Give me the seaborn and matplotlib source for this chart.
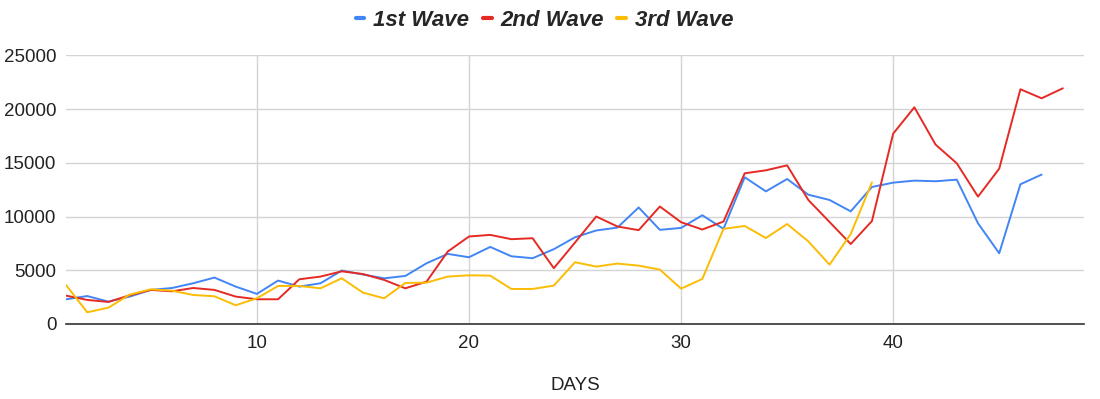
import matplotlib
matplotlib.use("Agg")
import matplotlib.pyplot as plt
import seaborn as sns
import pandas as pd
from matplotlib.lines import Line2D

wave1 = [2300, 2600, 2080, 2550, 3170, 3350, 3790, 4320, 3480, 2800,
         4040, 3480, 3790, 4970, 4600, 4250, 4470, 5650, 6520, 6210,
         7170, 6300, 6120, 6960, 8070, 8700, 8970, 10840, 8760, 8940,
         10120, 8850, 13650, 12340, 13490, 12030, 11540, 10480, 12750, 13150,
         13340, 13280, 13430, 9370, 6580, 13000, 13900]
wave2 = [2640, 2240, 2050, 2670, 3170, 3040, 3350, 3170, 2550, 2300,
         2300, 4160, 4410, 4900, 4650, 4100, 3320, 3940, 6740, 8140,
         8290, 7890, 7980, 5190, 7580, 10000, 9070, 8730, 10930, 9470,
         8790, 9530, 14020, 14300, 14760, 11540, 9490, 7440, 9580, 17710,
         20160, 16690, 14950, 11850, 14450, 21840, 21000, 21930]
wave3 = [3630, 1090, 1520, 2730, 3230, 3100, 2700, 2580, 1740, 2390,
         3540, 3540, 3320, 4250, 2920, 2390, 3820, 3850, 4410, 4530,
         4500, 3260, 3260, 3570, 5750, 5340, 5620, 5430, 5060, 3290,
         4190, 8850, 9120, 8000, 9300, 7690, 5520, 8370, 13180]
series_names = ["1st Wave", "2nd Wave", "3rd Wave"]
x_ticks = [10, 20, 30, 40]
y_ticks = [0, 5000, 10000, 15000, 20000, 25000]
colors = ["#4285F4", "#E52A24", "#FBBC04"]

rows = []
for name, vals in zip(series_names, [wave1, wave2, wave3]):
    for i, v in enumerate(vals):
        rows.append({"day": i + 1, "cases": v, "wave": name})
df = pd.DataFrame(rows)

sns.set_theme(style="white")
plt.rcParams["font.family"] = ["Liberation Sans", "DejaVu Sans"]

fig = plt.figure(figsize=(11, 3.99), dpi=100)
ax = fig.add_axes([0.06, 0.188, 0.9255, 0.6734])

sns.lineplot(data=df, x="day", y="cases", hue="wave", palette=colors,
             hue_order=series_names, linewidth=1.4, ax=ax, legend=False)

ax.set_xlim(1, 49)
ax.set_ylim(0, 25000)
ax.set_xticks(x_ticks)
ax.set_yticks(y_ticks)
ax.grid(True, color="#d4d4d4", linewidth=1.0)
ax.set_axisbelow(True)
for s in ["top", "right", "left"]:
    ax.spines[s].set_visible(False)
ax.spines["bottom"].set_color("#333333")
ax.spines["bottom"].set_linewidth(1.2)
ax.tick_params(axis="both", length=0, labelsize=13.5, labelcolor="#222222")
ax.tick_params(axis="y", pad=7)
ax.tick_params(axis="x", pad=8)
ax.set_ylabel("")
ax.set_xlabel("DAYS", fontsize=13.5, color="#222222", labelpad=18)

handles = [Line2D([0], [0], color=c, linewidth=3) for c in colors]
fig.legend(handles, series_names, loc="center", bbox_to_anchor=(0.495, 0.948),
           ncol=3, frameon=False, handlelength=0.4, handletextpad=0.4,
           columnspacing=0.6,
           prop={"weight": "bold", "style": "italic", "size": 16,
                 "family": ["Liberation Sans", "DejaVu Sans"]})

fig.savefig("out.png", dpi=100)
